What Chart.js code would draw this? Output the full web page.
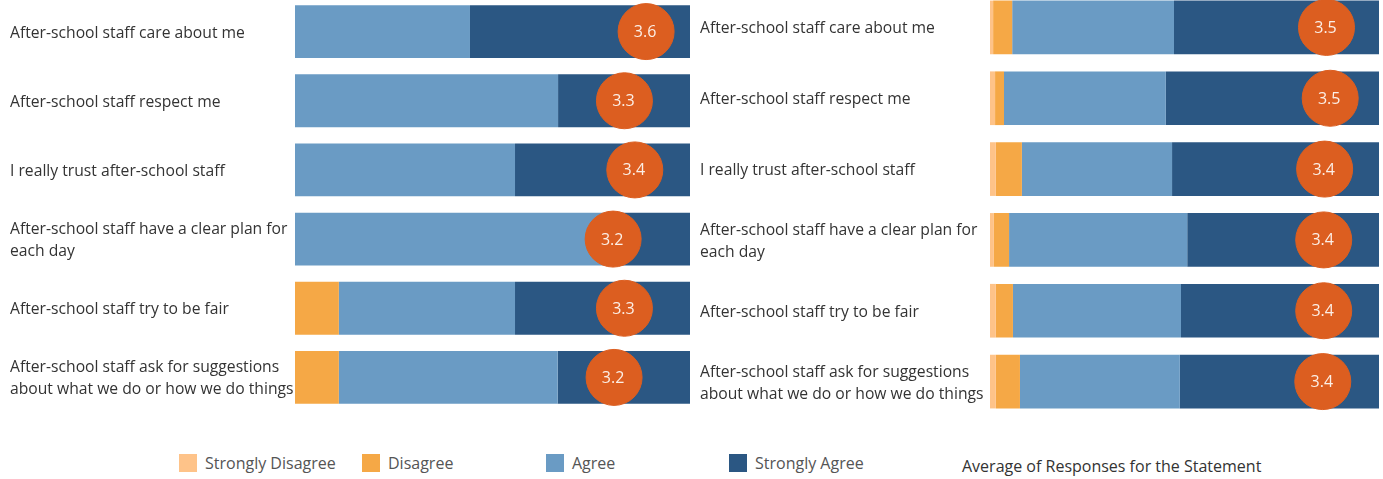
<!DOCTYPE html>
<html><head><meta charset="utf-8">
<script src="https://cdn.jsdelivr.net/npm/chart.js@4.4.1/dist/chart.umd.min.js"></script>
<style>
html,body{margin:0;padding:0;background:#fff;width:1383px;height:479px;overflow:hidden;position:relative;font-family:'Open Sans',sans-serif;}
#wrapL{position:absolute;left:0;top:-32px;width:719px;height:473px;}
#wrapR{position:absolute;left:690px;top:-37px;width:718px;height:483px;}
.sw{position:absolute;top:454px;width:18px;height:18px;}
.lt{position:absolute;top:452px;font-size:16px;line-height:22px;color:#555;white-space:nowrap;}
.avg{position:absolute;left:962px;top:455px;font-size:16px;line-height:22px;color:#333;white-space:nowrap;}
</style></head>
<body>
<div id="wrapL"><canvas id="cL"></canvas></div>
<div id="wrapR"><canvas id="cR"></canvas></div>
<div id="legend"></div>
<script>
// ---- data ----
const statements = [
  "After-school staff care about me",
  "After-school staff respect me",
  "I really trust after-school staff",
  ["After-school staff have a clear plan for", "each day"],
  "After-school staff try to be fair",
  ["After-school staff ask for suggestions", "about what we do or how we do things"]
];
const responseTypes = ["Strongly Disagree", "Disagree", "Agree", "Strongly Agree"];
const averageLabel = "Average of Responses for the Statement";

// left panel: % of responses
const leftStronglyDisagree = [0, 0, 0, 0, 0, 0];
const leftDisagree         = [0, 0, 0, 0, 11.1, 11.1];
const leftAgree            = [44.3, 66.6, 55.7, 79.0, 44.6, 55.4];
const leftStronglyAgree    = [55.7, 33.4, 44.3, 21.0, 44.3, 33.5];
const leftAverage          = [3.56, 3.33, 3.44, 3.21, 3.33, 3.22];

// right panel: % of responses
const rightStronglyDisagree = [0.8, 1.3, 1.5, 1.0, 1.5, 1.5];
const rightDisagree         = [4.9, 2.3, 6.7, 3.9, 4.4, 6.2];
const rightAgree            = [41.6, 41.6, 38.6, 45.8, 43.2, 41.1];
const rightStronglyAgree    = [52.7, 54.8, 53.2, 49.3, 50.9, 51.2];
const rightAverage          = [3.46, 3.50, 3.44, 3.43, 3.43, 3.42];

// ---- styles ----
const colors = ['#FEC389', '#F5A846', '#6A9BC4', '#2B5783'];
const circleColor = '#DC5E20';
const FONT = 'Open Sans';

const avgLabels = {
  id: 'avgLabels',
  afterDatasetsDraw(chart) {
    const ctx = chart.ctx;
    chart.data.datasets.forEach((ds, di) => {
      if (ds.type !== 'scatter') return;
      const meta = chart.getDatasetMeta(di);
      ctx.save();
      ctx.font = '16px "' + FONT + '"';
      ctx.fillStyle = '#FCEFE6';
      ctx.textAlign = 'center';
      ctx.textBaseline = 'middle';
      meta.data.forEach((pt, i) => ctx.fillText(ds.data[i].x.toFixed(1), pt.x - 1, pt.y + 1));
      ctx.restore();
    });
  }
};

function makeChart(id, series, avg, yWidth, catPct) {
  const datasets = series.map((vals, i) => ({
    type: 'bar', label: responseTypes[i], data: vals,
    backgroundColor: colors[i], borderWidth: 0,
    xAxisID: 'x', yAxisID: 'y', order: 2,
    barPercentage: 1, categoryPercentage: catPct, stack: 'r'
  }));
  datasets.push({
    type: 'scatter', label: averageLabel, indexAxis: 'y',
    data: avg.map((v, i) => ({ x: v, y: i })),
    xAxisID: 'x2', yAxisID: 'y', order: 0,
    pointRadius: 28, pointHoverRadius: 28,
    backgroundColor: circleColor, borderColor: circleColor, borderWidth: 1,
    clip: false, showLine: false
  });
  return new Chart(document.getElementById(id), {
    type: 'bar',
    data: { labels: statements, datasets },
    options: {
      indexAxis: 'y', responsive: true, maintainAspectRatio: false, animation: false,
      events: [],
      layout: { padding: { left: 10, right: 0, top: 0, bottom: 0 } },
      plugins: { legend: { display: false }, tooltip: { enabled: false } },
      scales: {
        x: { stacked: true, min: 0, max: 100, display: false },
        x2: { type: 'linear', min: -0.167, max: 4.026, display: false, stacked: false },
        y: {
          stacked: true, grid: { display: false }, border: { display: false },
          ticks: { color: '#333', font: { family: FONT, size: 15.7, lineHeight: 1.4 },
                   crossAlign: 'far', autoSkip: false, padding: 0, labelOffset: 1.5 },
          afterFit: s => { s.width = yWidth; }
        }
      }
    },
    plugins: [avgLabels]
  });
}

makeChart('cL', [leftStronglyDisagree, leftDisagree, leftAgree, leftStronglyAgree], leftAverage, 285, 0.763);
makeChart('cR', [rightStronglyDisagree, rightDisagree, rightAgree, rightStronglyAgree], rightAverage, 290, 0.758);

// ---- legend ----
const legendLeft = [179, 362, 546, 729];
const lg = document.getElementById('legend');
responseTypes.forEach((name, i) => {
  const sw = document.createElement('div');
  sw.className = 'sw'; sw.style.left = legendLeft[i] + 'px'; sw.style.background = colors[i];
  const t = document.createElement('div');
  t.className = 'lt'; t.style.left = (legendLeft[i] + 26) + 'px'; t.textContent = name;
  lg.appendChild(sw); lg.appendChild(t);
});
const av = document.createElement('div');
av.className = 'avg'; av.textContent = averageLabel;
lg.appendChild(av);
</script>
</body></html>
